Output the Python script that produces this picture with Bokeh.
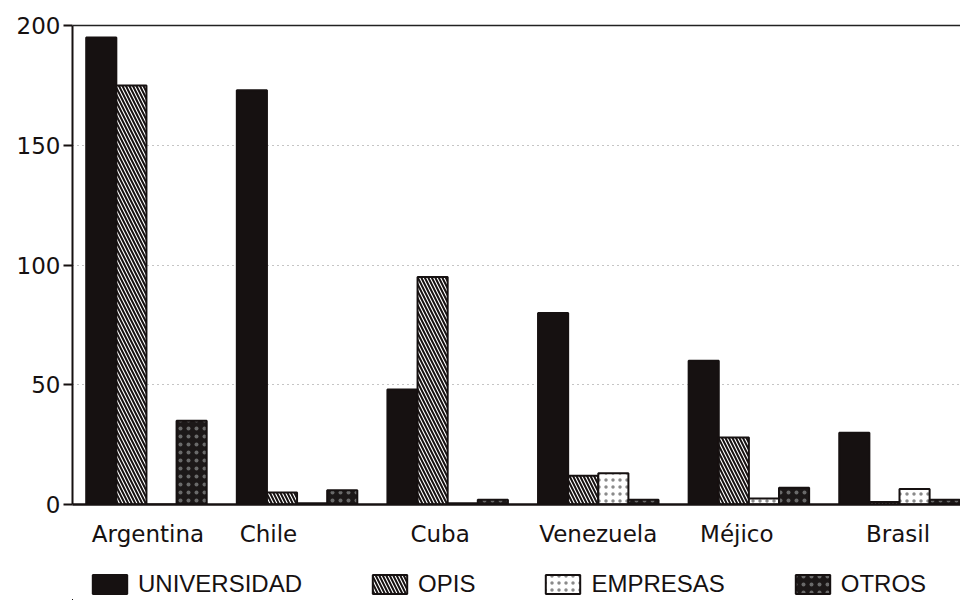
import numpy as np
from bokeh.plotting import figure
from bokeh.layouts import column
from bokeh.models import Range1d, FixedTicker, Span, Legend, LegendItem, ColumnDataSource
from bokeh.transform import dodge
from bokeh.embed import file_html
from bokeh.resources import INLINE

# ---- data ----
countries = ["Argentina", "Chile", "Cuba", "Venezuela", "Méjico", "Brasil"]
series_names = ["UNIVERSIDAD", "OPIS", "EMPRESAS", "OTROS"]
universidad = [195, 173, 48, 80, 60, 30]
opis = [175, 5, 95, 12, 28, 1]
empresas = [0, 0.5, 0.5, 13, 2.5, 6.5]
otros = [35, 6, 2, 2, 7, 2]
y_ticks = [0, 50, 100, 150, 200]

# ---- layout constants ----
label_shift = [0.01, -0.19, -0.05, 0.0, -0.08, -0.01]
bar_offsets = [-0.3, -0.1, 0.1, 0.3]
bar_width = 0.2
INK = "#161111"
W = 960

idx = np.arange(len(countries))

p = figure(width=W, height=550,
           x_range=Range1d(-0.491, 5.405), y_range=Range1d(0, 201.3),
           output_backend="svg", toolbar_location=None,
           min_border_left=72, min_border_right=0, min_border_top=22,
           min_border_bottom=46)
p.outline_line_color = None
p.background_fill_color = "white"
p.border_fill_color = "white"

styles = [
    dict(fill_color=INK),
    dict(fill_color="white", hatch_pattern="\\", hatch_color=INK,
         hatch_scale=7, hatch_weight=2),
    dict(fill_color="white", hatch_pattern=".", hatch_color="#8a8a8a",
         hatch_scale=7, hatch_weight=1),
    dict(fill_color="#1c1818", hatch_pattern=".", hatch_color="#6a6a6a",
         hatch_scale=8, hatch_weight=1),
]

sources = []
for vals, off, st in zip([universidad, opis, empresas, otros], bar_offsets, styles):
    src = ColumnDataSource(dict(x=idx, top=vals))
    sources.append(src)
    p.vbar(x=dodge("x", off), top="top", width=bar_width, source=src,
           line_color=INK, line_width=2, **st)

# top line at 200
p.add_layout(Span(location=200, dimension="width", line_color="#222222",
                  line_width=1.5))

# grid
p.xgrid.visible = False
p.ygrid.ticker = FixedTicker(ticks=y_ticks)
p.ygrid.grid_line_color = "#8a8a8a"
p.ygrid.grid_line_dash = "1 4"
p.ygrid.grid_line_width = 1

# y axis
p.yaxis.ticker = FixedTicker(ticks=y_ticks)
p.yaxis.bounds = (0, 200)
p.yaxis.axis_line_width = 2
p.yaxis.axis_line_color = INK
p.yaxis.major_tick_in = 0
p.yaxis.major_tick_out = 9
p.yaxis.major_tick_line_width = 2
p.yaxis.major_tick_line_color = INK
p.yaxis.minor_tick_line_color = None
p.yaxis.major_label_text_font = "DejaVu Sans"
p.yaxis.major_label_text_font_size = "23px"
p.yaxis.major_label_text_color = INK
p.yaxis.major_label_standoff = 3

# x axis
xt = [float(i + s) for i, s in zip(idx, label_shift)]
p.xaxis.ticker = FixedTicker(ticks=xt)
p.xaxis.major_label_overrides = {t: c for t, c in zip(xt, countries)}
p.xaxis.axis_line_width = 2.5
p.xaxis.axis_line_color = INK
p.xaxis.major_tick_line_color = None
p.xaxis.minor_tick_line_color = None
p.xaxis.major_label_text_font = "DejaVu Sans"
p.xaxis.major_label_text_font_size = "23px"
p.xaxis.major_label_text_color = INK
p.xaxis.major_label_standoff = 10

# ---- legend strip (its own renderers share the data but sit out of view) ----
p2 = figure(width=W, height=50, x_range=Range1d(1000, 1001), y_range=Range1d(1000, 1001),
            output_backend="svg", toolbar_location=None,
            min_border_left=0, min_border_right=0, min_border_top=0,
            min_border_bottom=0)
p2.axis.visible = False
p2.grid.visible = False
p2.outline_line_color = None
p2.border_fill_color = "white"
p2.background_fill_color = "white"

leg_renderers = []
for src, st in zip(sources, styles):
    r = p2.vbar(x="x", top="top", width=bar_width, source=src,
                line_color=INK, line_width=2, **st)
    leg_renderers.append(r)

legend = Legend(items=[LegendItem(label=n, renderers=[r], index=0)
                       for n, r in zip(series_names, leg_renderers)],
                orientation="horizontal", location=(16, 2),
                glyph_width=43, glyph_height=24, spacing=66, label_standoff=7,
                label_text_font="Liberation Sans",
                label_text_font_size="24px", label_text_color=INK,
                border_line_color=None, background_fill_alpha=0,
                padding=0, margin=0)
p2.add_layout(legend)

layout = column(p, p2, spacing=0)
open("out.html", "w").write(file_html(layout, INLINE))
